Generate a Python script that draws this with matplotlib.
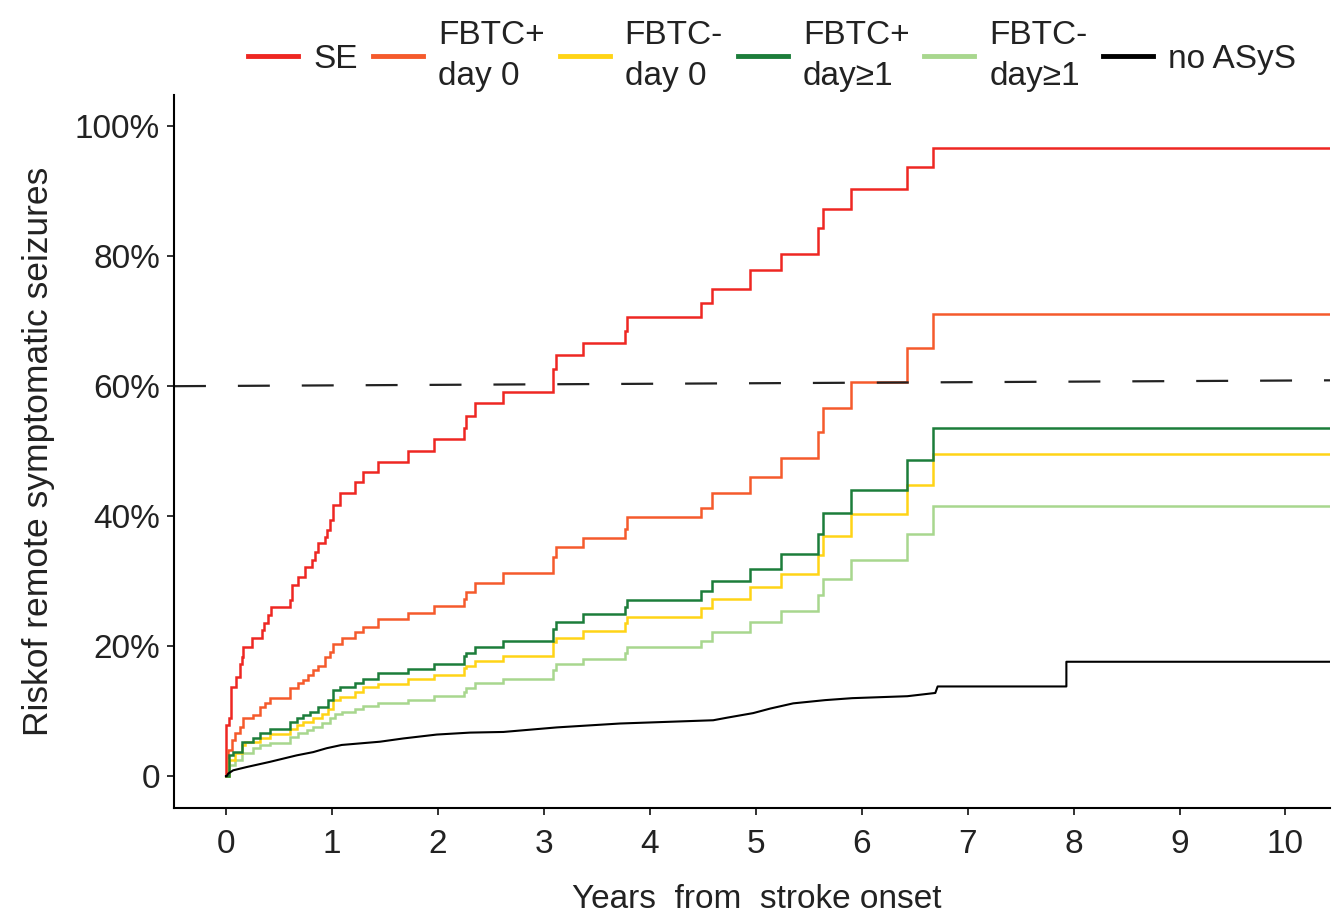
import matplotlib
matplotlib.use("Agg")
import matplotlib.pyplot as plt
from matplotlib.lines import Line2D

plt.rcParams['font.family'] = ['Liberation Sans', 'DejaVu Sans']
plt.rcParams['lines.scale_dashes'] = False

# ---------------- data (years, cumulative risk %) ----------------
t_end = 10.42

se_t = [0, 0.005, 0.03, 0.05, 0.094, 0.132, 0.148, 0.164, 0.243, 0.337, 0.362, 0.400,
        0.422, 0.604, 0.620, 0.683, 0.746, 0.809, 0.840, 0.872, 0.935, 0.951, 0.982,
        1.008, 1.077, 1.218, 1.297, 1.438, 1.721, 1.967, 2.247, 2.266, 2.351, 2.616,
        3.091, 3.116, 3.366, 3.763, 3.782, 4.485, 4.585, 4.948, 5.241, 5.585, 5.633,
        5.902, 6.426, 6.674, t_end]
se_v = [0, 7.8, 8.9, 13.7, 15.3, 17.3, 18.4, 19.9, 21.2, 22.5, 23.5, 24.8,
        26.0, 27.1, 29.4, 30.7, 32.2, 33.2, 34.5, 35.8, 36.8, 37.8, 39.4,
        41.7, 43.5, 45.3, 46.8, 48.4, 50.0, 51.8, 53.5, 55.4, 57.4, 59.1,
        62.7, 64.8, 66.6, 68.5, 70.7, 72.8, 75.0, 77.8, 80.4, 84.3, 87.3,
        90.3, 93.7, 96.6, 96.6]

fp0_t = [0, 0.02, 0.054, 0.085, 0.132, 0.164, 0.258, 0.321, 0.368, 0.415, 0.604,
         0.683, 0.730, 0.777, 0.824, 0.872, 0.935, 0.982, 1.013, 1.093, 1.218,
         1.297, 1.438, 1.721, 1.967, 2.247, 2.266, 2.351, 2.616, 3.091, 3.116,
         3.366, 3.763, 3.782, 4.485, 4.585, 4.948, 5.241, 5.585, 5.633, 5.902,
         6.426, 6.674, t_end]
fp0_v = [0, 4.0, 5.5, 6.6, 7.6, 8.9, 9.4, 10.7, 11.2, 12.0, 13.5,
         14.3, 14.8, 15.5, 16.3, 16.9, 18.4, 19.1, 20.4, 21.2, 22.2,
         23.0, 24.2, 25.1, 26.2, 27.3, 28.4, 29.7, 31.2, 33.7, 35.2,
         36.6, 38.1, 39.8, 41.3, 43.6, 46.0, 48.9, 52.9, 56.7, 60.7,
         65.9, 71.1, 71.1]

fm0_t = [0, 0.031, 0.085, 0.148, 0.180, 0.321, 0.415, 0.604, 0.668, 0.730, 0.824,
         0.903, 0.966, 1.013, 1.077, 1.218, 1.297, 1.438, 1.721, 1.967, 2.247,
         2.266, 2.351, 2.616, 3.091, 3.116, 3.366, 3.763, 3.782, 4.485, 4.585,
         4.948, 5.241, 5.585, 5.633, 5.902, 6.426, 6.674, t_end]
fm0_v = [0, 2.5, 3.5, 4.8, 5.3, 5.8, 6.5, 7.3, 7.8, 8.4, 8.9,
         9.6, 10.4, 11.7, 12.2, 13.0, 13.7, 14.2, 14.9, 15.5, 16.6,
         16.9, 17.7, 18.5, 20.7, 21.3, 22.4, 23.5, 24.5, 25.8, 27.2,
         29.1, 31.1, 34.0, 36.9, 40.3, 44.8, 49.5, 49.5]

fp1_t = [0, 0.031, 0.069, 0.148, 0.258, 0.321, 0.415, 0.604, 0.668, 0.730, 0.793,
         0.872, 0.966, 1.013, 1.077, 1.218, 1.297, 1.438, 1.721, 1.967, 2.247,
         2.266, 2.351, 2.616, 3.091, 3.116, 3.366, 3.763, 3.782, 4.485, 4.585,
         4.948, 5.241, 5.585, 5.633, 5.902, 6.426, 6.674, t_end]
fp1_v = [0, 3.2, 3.7, 5.3, 5.8, 6.6, 7.3, 8.4, 8.9, 9.4, 9.9,
         10.7, 11.7, 13.2, 13.7, 14.3, 15.0, 15.8, 16.5, 17.2, 18.5,
         18.9, 19.8, 20.8, 22.7, 23.7, 24.9, 26.0, 27.1, 28.5, 30.0,
         31.9, 34.2, 37.3, 40.5, 44.0, 48.7, 53.5, 53.5]

fm1_t = [0, 0.031, 0.085, 0.148, 0.258, 0.321, 0.415, 0.604, 0.683, 0.762, 0.824,
         0.903, 0.982, 1.030, 1.093, 1.218, 1.297, 1.438, 1.721, 1.967, 2.247,
         2.266, 2.351, 2.616, 3.091, 3.116, 3.366, 3.763, 3.782, 4.485, 4.585,
         4.948, 5.241, 5.585, 5.633, 5.902, 6.426, 6.674, t_end]
fm1_v = [0, 1.7, 2.5, 3.5, 4.3, 4.8, 5.1, 6.1, 6.6, 7.1, 7.6,
         8.2, 8.9, 9.5, 9.9, 10.4, 10.8, 11.2, 11.7, 12.3, 13.0,
         13.6, 14.3, 15.0, 16.3, 17.2, 18.1, 19.0, 19.8, 20.8, 22.2,
         23.7, 25.4, 27.8, 30.4, 33.2, 37.3, 41.5, 41.5]

no_t = [0, 0.007, 0.022, 0.069, 0.195, 0.415, 0.668, 0.824, 0.951, 1.093, 1.454,
        1.674, 1.990, 2.304, 2.619, 3.123, 3.720, 4.599, 4.731, 4.976, 5.137,
        5.354, 5.657, 5.911, 6.431, 6.695, 6.717, 7.932, 7.932, t_end]
no_v = [0, 0, 0.4, 0.9, 1.4, 2.2, 3.2, 3.7, 4.3, 4.8, 5.3,
        5.8, 6.4, 6.7, 6.8, 7.5, 8.1, 8.6, 9.0, 9.7, 10.4,
        11.2, 11.7, 12.0, 12.3, 12.8, 13.8, 13.8, 17.6, 17.6]

threshold_x = [-0.49, 10.42]
threshold_y = [60.0, 60.9]

labels = ["SE", "FBTC+\nday 0", "FBTC-\nday 0", "FBTC+\nday\u22651", "FBTC-\nday\u22651", "no ASyS"]
colors = ["#EE2722", "#F55A2C", "#FFD416", "#1C7D3A", "#A8D78E", "#000000"]

x_ticks = list(range(0, 11))
y_ticks = [0, 20, 40, 60, 80, 100]
y_tick_labels = ["0", "20%", "40%", "60%", "80%", "100%"]

# ---------------- figure ----------------
fig = plt.figure(figsize=(13.32, 9.18), dpi=100)
ax = fig.add_axes([174/1332, 1-808/918, (1330-174)/1332, (808-95)/918])

series = [(se_t, se_v), (fp0_t, fp0_v), (fm0_t, fm0_v), (fp1_t, fp1_v), (fm1_t, fm1_v)]
for i in [0, 1, 4, 2, 3]:
    t, v = series[i]
    ax.step(t, v, where='post', color=colors[i], lw=1.8, solid_joinstyle='miter')
ax.plot(no_t, no_v, color=colors[5], lw=1.5)

ax.plot(threshold_x, threshold_y, color="#222222", lw=1.6, dashes=(23, 23))

ax.set_xlim(-0.49, 10.42)
ax.set_ylim(-4.9, 104.8)
ax.set_xticks(x_ticks)
ax.set_xticklabels([str(x) for x in x_ticks])
ax.set_yticks(y_ticks)
ax.set_yticklabels(y_tick_labels)
for s in ["top", "right"]:
    ax.spines[s].set_visible(False)
for s in ["left", "bottom"]:
    ax.spines[s].set_linewidth(1.5)
ax.tick_params(axis='both', length=5, width=1.3, labelsize=24, colors='#222222')
ax.tick_params(axis='x', pad=10)
ax.tick_params(axis='y', pad=5)
ax.set_ylabel("Riskof remote symptomatic seizures", fontsize=25.5, color='#222222', labelpad=14)
ax.set_xlabel("Years  from  stroke onset", fontsize=24, color='#222222')
ax.xaxis.set_label_coords((757 - 174) / (1330 - 174), -0.107)

leg_handles = [Line2D([], [], color=c, lw=3.5) for c in colors]
leg = fig.legend(leg_handles, labels, loc='center', bbox_to_anchor=(772/1332, 1-56/918),
                 ncol=6, frameon=False, fontsize=24, handlelength=1.5, handletextpad=0.45,
                 columnspacing=0.45, borderaxespad=0)
for txt in leg.get_texts():
    txt.set_linespacing(1.4)
    txt.set_color('#222222')

fig.savefig("out.png", dpi=100)
